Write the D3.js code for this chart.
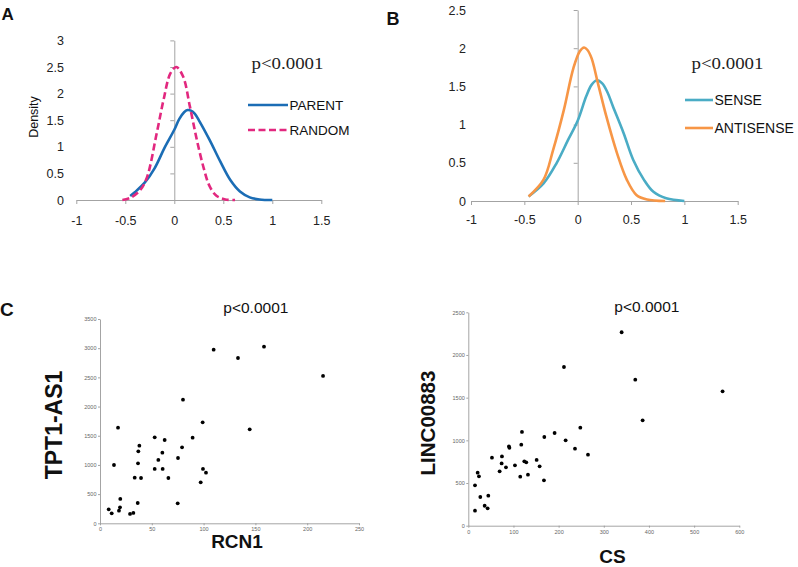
<!DOCTYPE html>
<html><head><meta charset="utf-8">
<script src="https://cdn.jsdelivr.net/npm/d3@7/dist/d3.min.js"></script>
<style>body{margin:0;background:#fff}svg{display:block}</style>
</head><body>
<svg id="c" width="798" height="567"></svg>
<script>
// ---------- DATA ----------
const densityXTicks = [-1, -0.5, 0, 0.5, 1, 1.5];
const densityAYTicks = [0, 0.5, 1, 1.5, 2, 2.5, 3];
const densityBYTicks = [0, 0.5, 1, 1.5, 2, 2.5];
const parentCurve = [[-0.45,0.075],[-0.4,0.15],[-0.3,0.33],[-0.2,0.6],[-0.1,0.98],[0,1.32],[0.05,1.52],[0.1,1.65],[0.135,1.69],[0.17,1.68],[0.21,1.62],[0.26,1.47],[0.36,1.13],[0.47,0.72],[0.57,0.38],[0.67,0.16],[0.77,0.05],[0.87,0.01],[1.0,0.0]];
const randomCurve = [[-0.53,0.0],[-0.45,0.04],[-0.35,0.18],[-0.28,0.42],[-0.18,1.25],[-0.11,1.88],[-0.04,2.38],[0.02,2.5],[0.09,2.32],[0.16,1.75],[0.23,1.13],[0.3,0.6],[0.36,0.26],[0.43,0.08],[0.52,0.01],[0.62,0.0]];
const senseCurve = [[-0.46,0.06],[-0.32,0.23],[-0.2,0.49],[-0.09,0.8],[0,1.05],[0.08,1.37],[0.13,1.52],[0.18,1.58],[0.23,1.54],[0.28,1.42],[0.33,1.24],[0.43,0.89],[0.52,0.54],[0.62,0.28],[0.71,0.12],[0.83,0.035],[1.0,0.0]];
const antisenseCurve = [[-0.46,0.06],[-0.32,0.28],[-0.23,0.67],[-0.13,1.19],[-0.04,1.74],[0.02,1.96],[0.06,2.01],[0.09,1.98],[0.13,1.87],[0.19,1.54],[0.27,1.1],[0.37,0.62],[0.46,0.28],[0.55,0.08],[0.65,0.02],[0.82,0.0]];

const rcn1 = [8.4,11.3,17.4,18.3,19.3,19.6,13.5,29,32.2,33.5,36.4,36.7,37,38,39.6,52.8,52.8,56.3,60.2,60.5,62.4,66,75.3,75,79.2,80.1,89.4,97.2,99.1,99.4,102.3,109.7,133.2,144.5,158.3,215.3];
const tpt1as1 = [240,171,1639,217,274,417,999,160,177,782,348,1028,1233,1330,776,1473,931,1085,1210,931,1427,776,1119,343,1302,2118,1467,702,1730,931,868,2975,2832,1610,3026,2524];
const cs = [14.8,14.8,20.7,23.6,26.6,36.2,42.8,44.3,52.4,69.4,73.8,74.5,83.4,90,91,103.3,115,117.3,118.8,124,128.4,132.1,151.3,157.9,167.5,168.3,191.1,211.8,215.5,236.2,248,265,339.5,369.7,386,563];
const linc00883 = [176,473,621,578,336,234,203,352,797,637,730,812,684,930,912,707,574,949,1098,754,742,598,770,695,531,1039,1086,1859,1000,902,1148,832,2266,1711,1234,1574];
const rcn1Ticks = [0,50,100,150,200,250];
const tptTicks = [0,500,1000,1500,2000,2500,3000,3500];
const csTicks = [0,100,200,300,400,500,600];
const lincTicks = [0,500,1000,1500,2000,2500];

// ---------- DRAW ----------
const svg = d3.select("#c");
const AX = "#a3a3a3";
const SANS = "'Liberation Sans', Arial, sans-serif";
const SERIF = "'Liberation Serif', 'Times New Roman', serif";

function densityPanel(o) {
  const x = d3.scaleLinear().domain([-1, 1.5]).range(o.xr);
  const y = d3.scaleLinear().domain([0, o.ymax]).range(o.yr);
  const g = svg.append("g");
  const xa = g.append("g").attr("transform", `translate(0,${y(0)})`)
    .call(d3.axisBottom(x).tickValues(densityXTicks).tickFormat(d => String(d)).tickSize(4).tickSizeOuter(0));
  xa.selectAll("path,line").attr("stroke", AX);
  xa.selectAll("text").attr("font-family", SANS).attr("font-size", o.fs).attr("fill", "#222")
    .attr("y", o.xLabelDy).attr("dy", 0);
  const ya = g.append("g").attr("transform", `translate(${x(0)},0)`)
    .call(d3.axisLeft(y).tickValues(o.yTicks).tickFormat(d => String(d)).tickSize(4).tickSizeOuter(0));
  ya.selectAll("path,line").attr("stroke", AX);
  ya.selectAll("text").attr("font-family", SANS).attr("font-size", o.fs).attr("fill", "#222")
    .attr("x", o.yLabelRight - x(0));
  const line = d3.line().x(d => x(d[0])).y(d => y(d[1])).curve(d3.curveCatmullRom.alpha(0.5));
  o.series.forEach(s => {
    g.append("path").attr("d", line(s.data)).attr("fill", "none").attr("stroke", s.color)
      .attr("stroke-width", 2.6).attr("stroke-dasharray", s.dash || null);
  });
  // legend
  o.series.forEach((s, i) => {
    const ly = o.legY[i];
    g.append("line").attr("x1", o.legX[0]).attr("x2", o.legX[1]).attr("y1", ly).attr("y2", ly)
      .attr("stroke", s.color).attr("stroke-width", 2.6).attr("stroke-dasharray", s.dash || null);
    g.append("text").attr("x", o.legX[1] + 1.5).attr("y", ly).attr("dy", "0.36em")
      .attr("font-family", SANS).attr("font-size", o.legFs).attr("fill", "#111").text(s.name);
  });
  g.append("text").attr("x", o.pX).attr("y", o.pY).attr("font-family", SERIF).attr("font-size", 16)
    .attr("textLength", 72).attr("lengthAdjust", "spacingAndGlyphs").attr("fill", "#222").text("p<0.0001");
  return {x, y, g};
}

const A = densityPanel({
  xr: [76.3, 321.3], yr: [200, 40.4], ymax: 3, yTicks: densityAYTicks, fs: 12.5,
  xLabelDy: 25, yLabelRight: 64,
  series: [
    {name: "PARENT", data: parentCurve, color: "#1b6db5"},
    {name: "RANDOM", data: randomCurve, color: "#e2287f", dash: "7,3.5"}
  ],
  legX: [248, 288], legY: [105, 130], legFs: 13.5, pX: 251.5, pY: 69.3
});
A.g.append("text").attr("transform", "translate(38,117) rotate(-90)").attr("text-anchor", "middle")
  .attr("font-family", SANS).attr("font-size", 12.5).attr("fill", "#111").text("Density");

const B = densityPanel({
  xr: [471, 737.7], yr: [201, 10], ymax: 2.5, yTicks: densityBYTicks, fs: 12.5,
  xLabelDy: 23, yLabelRight: 466,
  series: [
    {name: "SENSE", data: senseCurve, color: "#4aacc5"},
    {name: "ANTISENSE", data: antisenseCurve, color: "#f79646"}
  ],
  legX: [685, 713], legY: [100, 128], legFs: 14, pX: 691.5, pY: 69.3
});

function scatterPanel(o) {
  const x = d3.scaleLinear().domain([0, o.xmax]).range(o.xr);
  const y = d3.scaleLinear().domain([0, o.ymax]).range(o.yr);
  const g = svg.append("g");
  const xa = g.append("g").attr("transform", `translate(0,${o.yr[0]})`)
    .call(d3.axisBottom(x).tickValues(o.xTicks).tickFormat(d => String(d)).tickSize(2).tickSizeOuter(0).tickPadding(2));
  const ya = g.append("g").attr("transform", `translate(${o.xr[0]},0)`)
    .call(d3.axisLeft(y).tickValues(o.yTicks).tickFormat(d => String(d)).tickSize(2).tickSizeOuter(0).tickPadding(1.5));
  [xa, ya].forEach(a => {
    a.selectAll("path,line").attr("stroke", "#9a9a9a").attr("stroke-width", 0.9);
    a.selectAll("text").attr("font-family", SANS).attr("font-size", 5.5).attr("fill", "#666");
  });
  g.selectAll("circle.pt").data(o.xs).join("circle").attr("class", "pt")
    .attr("cx", (d) => x(d)).attr("cy", (d, i) => y(o.ys[i])).attr("r", 1.9).attr("fill", "#000");
  g.append("text").attr("x", o.pX).attr("y", o.pY).attr("font-family", SANS).attr("font-size", 15.5)
    .attr("fill", "#111").text("p<0.0001");
  g.append("text").attr("x", o.xlX).attr("y", o.xlY).attr("text-anchor", "middle")
    .attr("font-family", SANS).attr("font-weight", "bold").attr("font-size", o.xlFs).attr("fill", "#111").text(o.xLabel);
  g.append("text").attr("transform", `translate(${o.ylX},${o.ylY}) rotate(-90)`).attr("text-anchor", "middle")
    .attr("font-family", SANS).attr("font-weight", "bold").attr("font-size", o.ylFs).attr("fill", "#111").text(o.yLabel);
}

scatterPanel({
  xs: rcn1, ys: tpt1as1, xmax: 250, ymax: 3500, xr: [100, 359], yr: [523.3, 319],
  xTicks: rcn1Ticks, yTicks: tptTicks, pX: 223.3, pY: 312.7,
  xLabel: "RCN1", xlX: 237, xlY: 548.3, xlFs: 19,
  yLabel: "TPT1-AS1", ylX: 61.5, ylY: 425, ylFs: 23
});
scatterPanel({
  xs: cs, ys: linc00883, xmax: 600, ymax: 2500, xr: [468.3, 739.3], yr: [525.7, 312.3],
  xTicks: csTicks, yTicks: lincTicks, pX: 614.3, pY: 312.3,
  xLabel: "CS", xlX: 612.5, xlY: 563, xlFs: 19,
  yLabel: "LINC00883", ylX: 435, ylY: 423, ylFs: 20.5
});

// panel letters
[["A", 1.5, 20, 17], ["B", 386.5, 25, 18], ["C", 0, 316, 19]].forEach(([t, px, py, fs]) => {
  svg.append("text").attr("x", px).attr("y", py).attr("font-family", SANS).attr("font-weight", "bold")
    .attr("font-size", fs).attr("fill", "#111").text(t);
});
</script>
</body></html>
